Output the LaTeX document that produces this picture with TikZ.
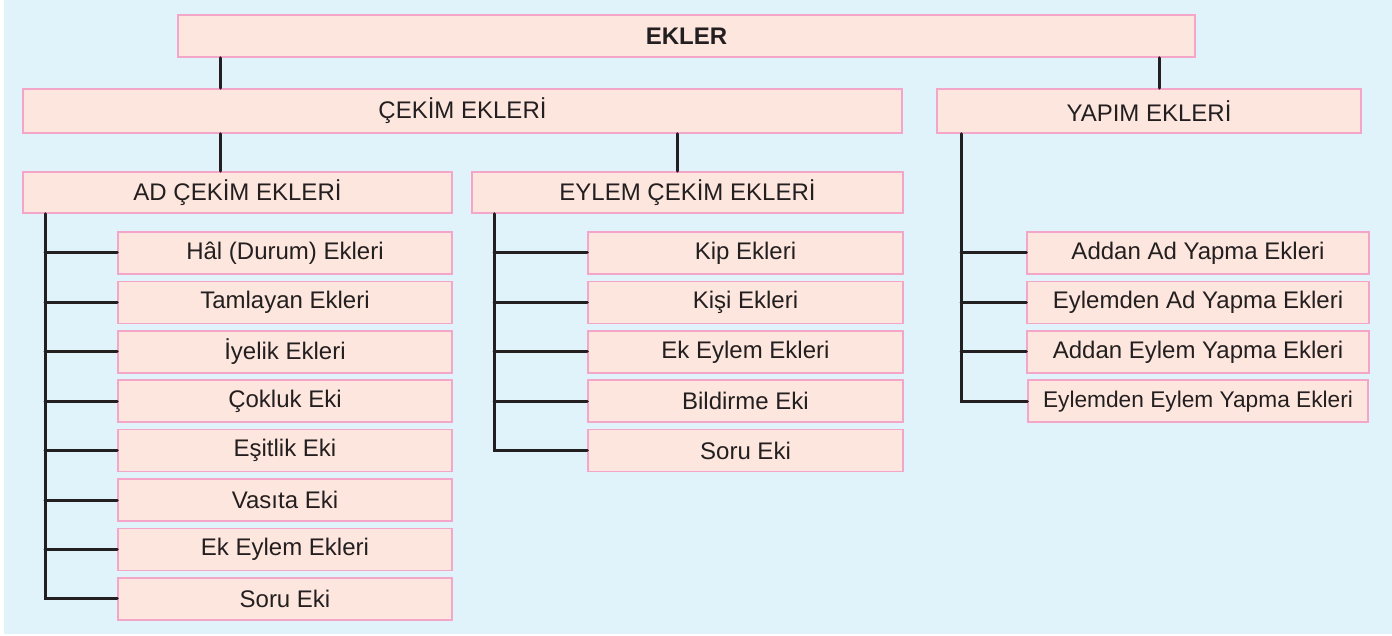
\documentclass[tikz,border=0pt]{standalone}
\usepackage{fontspec}
\setmainfont{Liberation Sans}

\definecolor{ekbg}{HTML}{E0F3FB}
\definecolor{ekfill}{HTML}{FDE6DD}
\definecolor{ekpink}{HTML}{F4A6C9}
\definecolor{ekink}{HTML}{231F20}

\tikzset{
  ekbox/.style={draw=ekpink, fill=ekfill, line width=1.5pt, minimum width=#1,
    minimum height=42pt, inner sep=2pt, text=ekink,
    font=\fontsize{24}{28}\selectfont},
  ekline/.style={draw=ekink, line width=3pt, line cap=round}
}

\begin{document}
\begin{tikzpicture}[x=1pt,y=-1pt]
  \useasboundingbox (0,0) rectangle (1392,636);
  \fill[white] (0,0) rectangle (1392,636);
  \fill[ekbg] (4,0) rectangle (1392,634);

  \newcommand{\dy}{49.4}

  \node[ekbox=1017pt, font=\bfseries\fontsize{24}{28}\selectfont] (ekler) at (686.5,36) {EKLER};
  \node[ekbox=879pt, minimum height=44pt] (cekim) at (462.5,111) {ÇEKİM EKLERİ};
  \node[ekbox=424pt, minimum height=44pt] (yapim) at (1149,111) {YAPIM EKLERİ};
  \node[ekbox=429pt, minimum height=41pt] (ad) at (237.5,192.5) {AD ÇEKİM EKLERİ};
  \node[ekbox=431pt, minimum height=41pt] (eylem) at (687.5,192.5) {EYLEM ÇEKİM EKLERİ};

  \foreach \i/\txt in {1/Hâl (Durum) Ekleri, 2/Tamlayan Ekleri, 3/İyelik Ekleri,
      4/Çokluk Eki, 5/Eşitlik Eki, 6/Vasıta Eki, 7/Ek Eylem Ekleri, 8/Soru Eki} {
    \node[ekbox=334pt] (a-\i) at (285,{253+\dy*(\i-1)}) {\txt};
  }

  \foreach \i/\txt in {1/Kip Ekleri, 2/Kişi Ekleri, 3/Ek Eylem Ekleri,
      4/Bildirme Eki, 5/Soru Eki} {
    \node[ekbox=315pt] (e-\i) at (745.5,{253+\dy*(\i-1)}) {\txt};
  }

  \foreach \i/\txt in {1/Addan Ad Yapma Ekleri, 2/Eylemden Ad Yapma Ekleri,
      3/Addan Eylem Yapma Ekleri} {
    \node[ekbox=342pt] (y-\i) at (1198,{253+\dy*(\i-1)}) {\txt};
  }
  \node[ekbox=340pt, font=\fontsize{22.7}{28}\selectfont] (y-4) at (1198,{253+\dy*3}) {Eylemden Eylem Yapma Ekleri};

  % upper levels
  \draw[ekline] (ekler.south -| 220,0) -- (cekim.north -| 220,0);
  \draw[ekline] (ekler.south -| 1159,0) -- (yapim.north -| 1159,0);
  \draw[ekline] (cekim.south -| 220,0) -- (ad.north -| 220,0);
  \draw[ekline] (cekim.south -| 677,0) -- (eylem.north -| 677,0);

  % lists
  \draw[ekline] (ad.south -| 45,0) |- (a-8.west);
  \foreach \i in {1,...,7}
    \draw[ekline] (a-\i.west -| 45,0) -- (a-\i.west);

  \draw[ekline] (eylem.south -| 494,0) |- (e-5.west);
  \foreach \i in {1,...,4}
    \draw[ekline] (e-\i.west -| 494,0) -- (e-\i.west);

  \draw[ekline] (yapim.south -| 961,0) |- (y-4.west);
  \foreach \i in {1,...,3}
    \draw[ekline] (y-\i.west -| 961,0) -- (y-\i.west);

\end{tikzpicture}
\end{document}
